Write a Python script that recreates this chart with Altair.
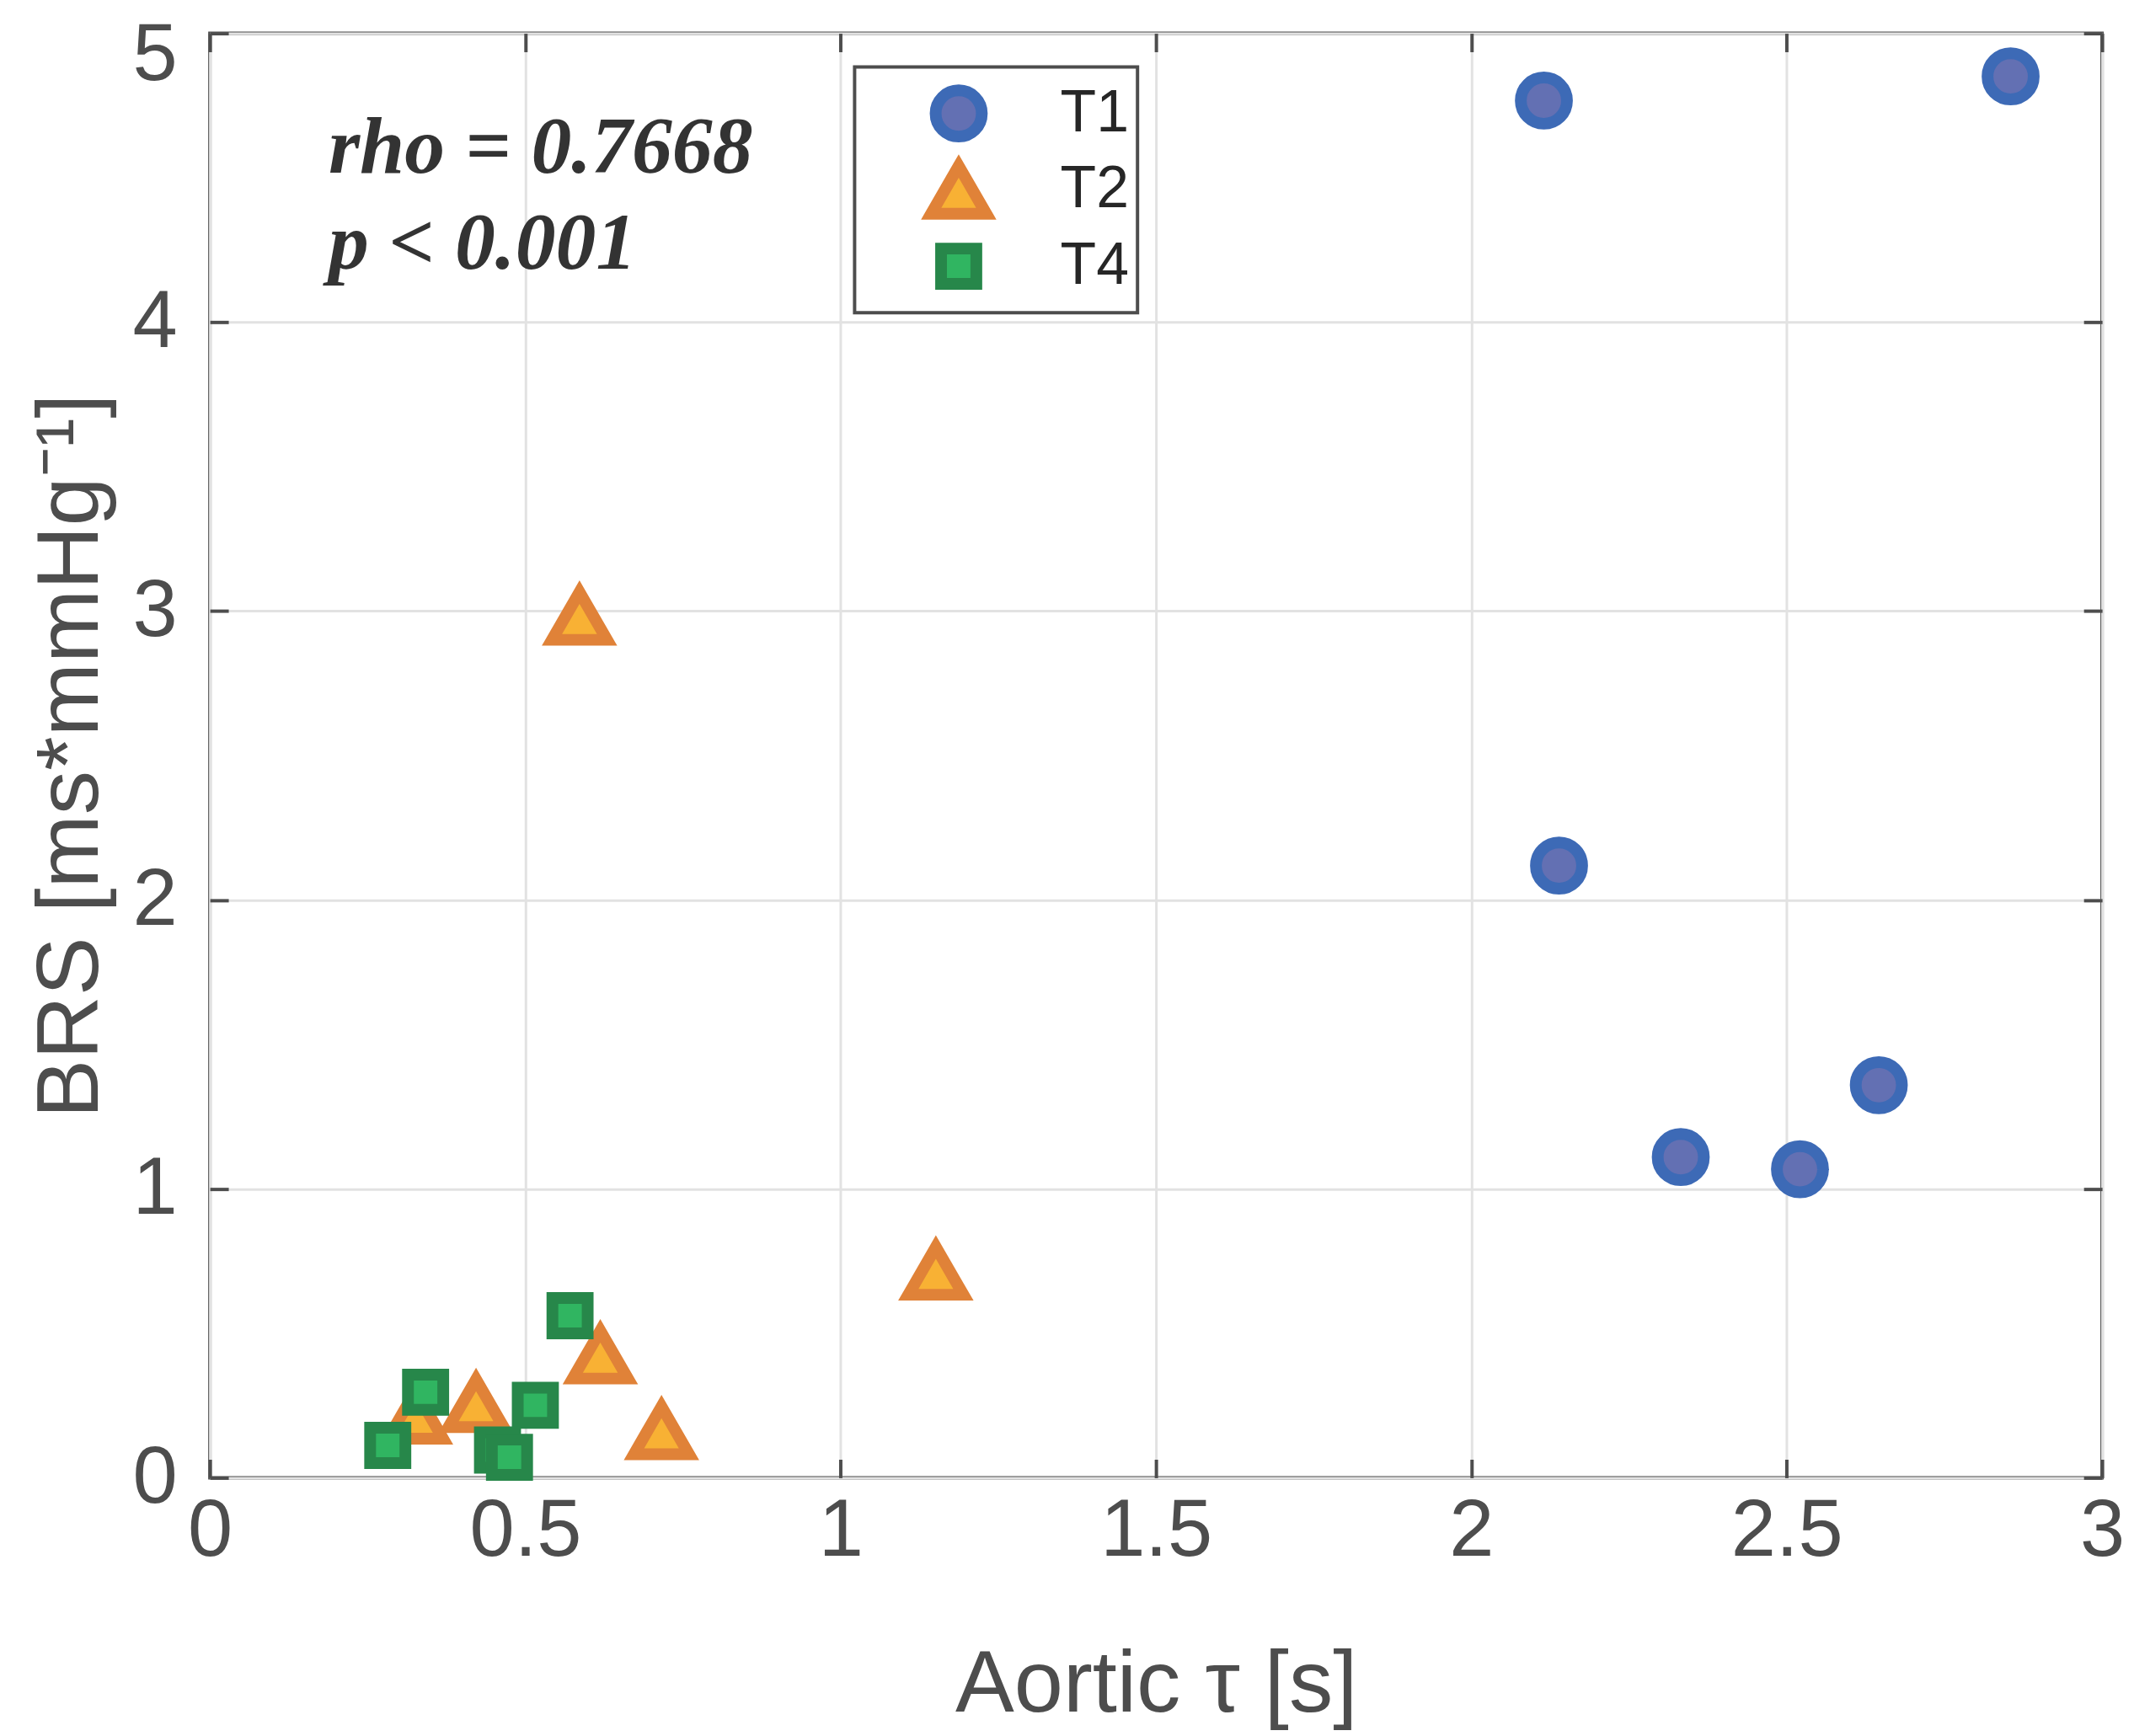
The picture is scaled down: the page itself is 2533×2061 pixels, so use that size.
import altair as alt
import pandas as pd

# ---- data ----
series_names = ["T1", "T2", "T4"]
T1_x = [2.115, 2.855, 2.139, 2.332, 2.521, 2.646]
T1_y = [4.767, 4.851, 2.119, 1.110, 1.068, 1.359]
T2_x = [0.586, 1.151, 0.619, 0.716, 0.422, 0.326]
T2_y = [2.983, 0.716, 0.426, 0.164, 0.258, 0.218]
T4_x = [0.571, 0.342, 0.516, 0.282, 0.456, 0.475]
T4_y = [0.561, 0.296, 0.251, 0.112, 0.096, 0.071]

x_ticks = [0, 0.5, 1, 1.5, 2, 2.5, 3]
y_ticks = [0, 1, 2, 3, 4, 5]
x_title = "Aortic τ [s]"
y_title = "BRS [ms*mmHg⁻¹]"
annot_lines = ["rho = 0.7668", "p < 0.001"]
annot_x = [0.188]
annot_y = [4.518]

shapes = ["circle", "triangle-up", "square"]
fills = ["#6370b3", "#f8b134", "#30b561"]
strokes = ["#3d6ab6", "#e08238", "#27874a"]
sizes = [3025, 4300, 1764]

rows = []
for name, xs, ys in [("T1", T1_x, T1_y), ("T2", T2_x, T2_y), ("T4", T4_x, T4_y)]:
    for xv, yv in zip(xs, ys):
        rows.append({"tau": xv, "brs": yv, "Series": name})
df = pd.DataFrame(rows)

xscale = alt.Scale(domain=[0, 3], nice=False, zero=False)
yscale = alt.Scale(domain=[0, 5], nice=False, zero=False)

AX = "#4d4d4d"
FONT = "Liberation Sans"

points = alt.Chart(df).mark_point(filled=True, strokeWidth=14, opacity=1).encode(
    x=alt.X("tau:Q", scale=xscale,
            axis=alt.Axis(orient="bottom", values=x_ticks, title=x_title, format="~g",
                          grid=True, gridColor="#e2e2e2", gridWidth=3,
                          domain=False, ticks=True, tickSize=22, offset=-22,
                          tickColor=AX, tickWidth=4,
                          labelFontSize=96, labelFont=FONT, labelColor=AX,
                          labelPadding=16, labelFlush=False,
                          titleFontSize=105, titleFont=FONT, titleColor=AX,
                          titleFontWeight="normal", titlePadding=84)),
    y=alt.Y("brs:Q", scale=yscale,
            axis=alt.Axis(orient="left", values=y_ticks, title=y_title, format="~g",
                          grid=True, gridColor="#e2e2e2", gridWidth=3,
                          domain=False, ticks=True, tickSize=22, offset=-22,
                          tickColor=AX, tickWidth=4,
                          labelFontSize=96, labelFont=FONT, labelColor=AX,
                          labelPadding=39, labelFlush=False,
                          labelOffset={"condition": {"test": "datum.value == 5", "value": 26},
                                       "value": 0},
                          titleFontSize=105, titleFont=FONT, titleColor=AX,
                          titleFontWeight="normal", titlePadding=20)),
    shape=alt.Shape("Series:N", scale=alt.Scale(domain=series_names, range=shapes),
                    legend=alt.Legend(title=None, orient="none", legendX=768, legendY=40,
                                      strokeColor=AX, padding=10, rowPadding=0,
                                      clipHeight=91,
                                      symbolOffset=74, labelOffset=81,
                                      symbolStrokeWidth=14,
                                      labelFontSize=70, labelFont=FONT,
                                      labelColor="#262626", fillColor="white")),
    fill=alt.Fill("Series:N", scale=alt.Scale(domain=series_names, range=fills)),
    stroke=alt.Stroke("Series:N", scale=alt.Scale(domain=series_names, range=strokes)),
    size=alt.Size("Series:N", scale=alt.Scale(type="ordinal", domain=series_names, range=sizes)),
)

frame = alt.Chart(df).mark_point(opacity=0).encode(
    x=alt.X("tau:Q", scale=xscale,
            axis=alt.Axis(orient="top", values=x_ticks, title=None, labels=False,
                          grid=False, domain=False, ticks=True, tickSize=22, offset=-22,
                          tickColor=AX, tickWidth=4)),
    y=alt.Y("brs:Q", scale=yscale,
            axis=alt.Axis(orient="right", values=y_ticks, title=None, labels=False,
                          grid=False, domain=False, ticks=True, tickSize=22, offset=-22,
                          tickColor=AX, tickWidth=4)),
)

annot_df = pd.DataFrame({"ax": annot_x, "ay": annot_y})
annot = alt.Chart(annot_df).mark_text(
    font="Liberation Serif", fontStyle="italic", fontWeight="bold", fontSize=96,
    color="#333333", align="left", baseline="alphabetic", lineHeight=115,
).encode(
    x=alt.X("ax:Q", scale=xscale, axis=None),
    y=alt.Y("ay:Q", scale=yscale, axis=None),
    text=alt.value(annot_lines),
)

chart = alt.layer(frame, points, annot).resolve_axis(
    x="independent", y="independent"
).properties(
    width=2254, height=1721,
    autosize=alt.AutoSizeParams(type="none"),
    padding={"left": 242, "top": 28, "right": 30, "bottom": 300},
    background="white",
).configure_view(
    stroke=AX, strokeWidth=4
).configure_legend(
    strokeWidth=4, cornerRadius=0
)

chart.save("out.html", embed_options={"renderer": "svg", "actions": False})
